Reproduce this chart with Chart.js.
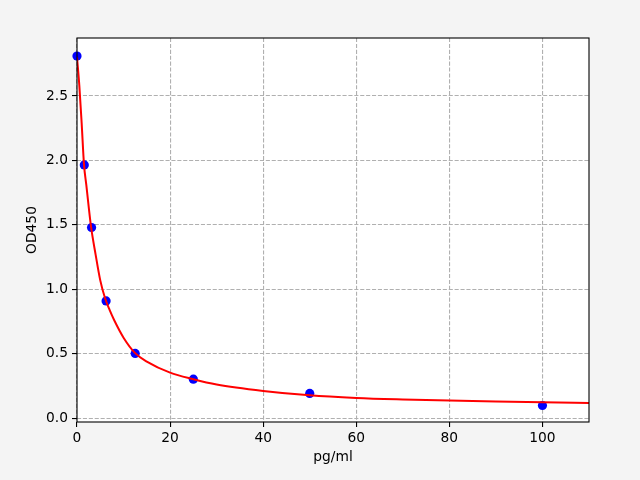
<!DOCTYPE html>
<html>
<head>
<meta charset="utf-8">
<script src="https://cdn.jsdelivr.net/npm/chart.js@4"></script>
<style>
  html, body { margin: 0; padding: 0; background: #f4f4f4; }
  canvas { display: block; }
</style>
</head>
<body>
<canvas id="c" width="640" height="480"></canvas>
<script>
// Standards (measured points)
const concentrations = [0, 1.5625, 3.125, 6.25, 12.5, 25, 50, 100];
const odValues = [2.81, 1.965, 1.48, 0.91, 0.503, 0.303, 0.193, 0.099];

// Fitted curve
const curveX = [0, 0.5, 1, 1.5, 2, 3, 4, 5, 6, 7, 8, 10, 12.5, 15, 20, 25, 30, 40, 50, 60, 70, 80, 90, 100, 110];
const curveY = [2.80, 2.58, 2.29, 1.97, 1.81, 1.49, 1.27, 1.07, 0.935, 0.84, 0.76, 0.625, 0.505, 0.44, 0.354, 0.303, 0.262, 0.212, 0.178, 0.158, 0.146, 0.137, 0.130, 0.124, 0.119];

// Tick labels
const xTicks = [0, 20, 40, 60, 80, 100];
const yTicks = [0.0, 0.5, 1.0, 1.5, 2.0, 2.5];

const xLabel = 'pg/ml';
const yLabel = 'OD450';

const FONT = { family: 'DejaVu Sans', size: 13.8 };

const framePlugin = {
  id: 'frame',
  beforeDraw(chart) {
    const { ctx, chartArea: a } = chart;
    ctx.save();
    ctx.fillStyle = '#ffffff';
    ctx.fillRect(a.left, a.top, a.right - a.left, a.bottom - a.top);
    ctx.restore();
  },
  afterDraw(chart) {
    const { ctx, chartArea: a } = chart;
    ctx.save();
    ctx.strokeStyle = '#000000';
    ctx.lineWidth = 1.1;
    ctx.strokeRect(a.left, a.top, a.right - a.left, a.bottom - a.top);
    ctx.restore();
  }
};

new Chart(document.getElementById('c'), {
  type: 'scatter',
  data: {
    datasets: [
      {
        type: 'line',
        data: curveX.map((x, i) => ({ x: x, y: curveY[i] })),
        borderColor: '#ff0000',
        borderWidth: 2,
        pointRadius: 0,
        fill: false,
        cubicInterpolationMode: 'monotone',
        order: 0
      },
      {
        type: 'scatter',
        data: concentrations.map((x, i) => ({ x: x, y: odValues[i] })),
        backgroundColor: '#0000ff',
        borderColor: '#0000ff',
        borderWidth: 0,
        pointRadius: 4.6,
        clip: false,
        order: 1
      }
    ]
  },
  options: {
    responsive: false,
    animation: false,
    devicePixelRatio: 1,
    layout: { padding: { left: 0, right: 51, top: 38, bottom: 0 } },
    plugins: { legend: { display: false }, tooltip: { enabled: false } },
    scales: {
      x: {
        type: 'linear',
        min: 0,
        max: 110,
        afterBuildTicks(scale) { scale.ticks = xTicks.map(v => ({ value: v })); },
        afterFit(scale) { scale.height = 58; },
        ticks: {
          color: '#000',
          font: FONT,
          padding: 3,
          maxRotation: 0,
          callback: v => String(v)
        },
        grid: {
          color: '#b0b0b0',
          lineWidth: 1.1,
          tickColor: '#000',
          tickLength: 5,
          tickWidth: 1.1,
          tickBorderDash: []
        },
        border: { display: false, dash: [4.1, 1.8] },
        title: {
          display: true,
          text: xLabel,
          color: '#000',
          font: FONT,
          padding: { top: 4, bottom: 14 }
        }
      },
      y: {
        type: 'linear',
        min: -0.029,
        max: 2.950,
        afterBuildTicks(scale) { scale.ticks = yTicks.map(v => ({ value: v })); },
        afterFit(scale) { scale.width = 77; },
        ticks: {
          color: '#000',
          font: FONT,
          padding: 4,
          callback: v => Number(v).toFixed(1)
        },
        grid: {
          color: '#b0b0b0',
          lineWidth: 1.1,
          tickColor: '#000',
          tickLength: 5,
          tickWidth: 1.1,
          tickBorderDash: []
        },
        border: { display: false, dash: [4.1, 1.8] },
        title: {
          display: true,
          text: yLabel,
          color: '#000',
          font: FONT,
          padding: { top: 24, bottom: 4 }
        }
      }
    }
  },
  plugins: [framePlugin]
});
</script>
</body>
</html>
